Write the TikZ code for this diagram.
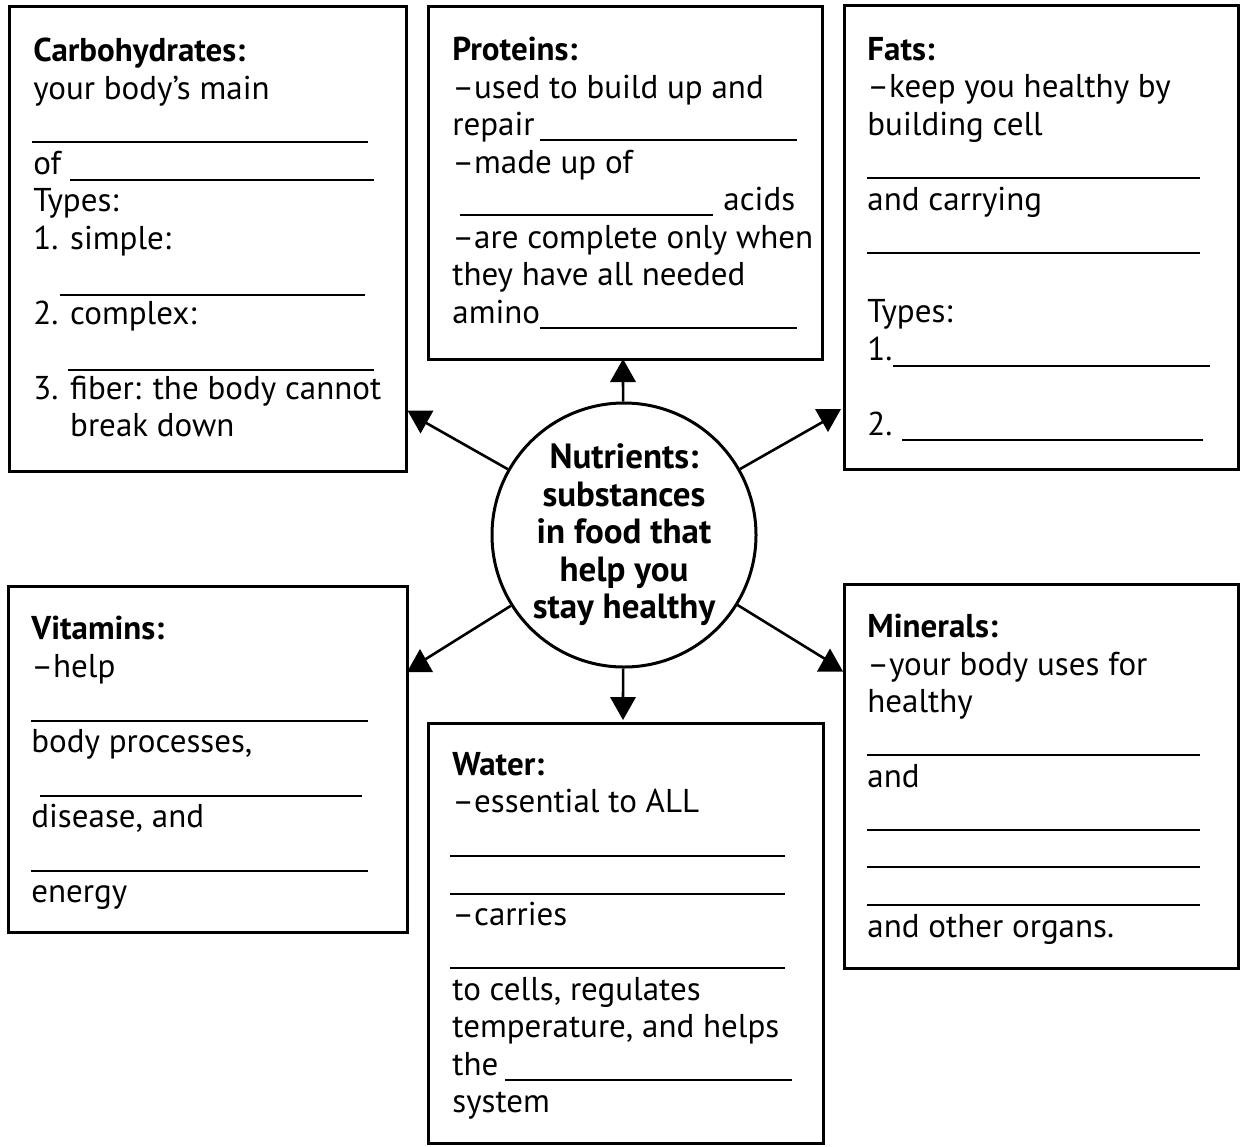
\documentclass[tikz,border=0pt]{standalone}
\usepackage{fontspec}
\setmainfont{PT Sans}
\usetikzlibrary{positioning}

\tikzset{
	infobox/.style={draw, line width=1.4pt, anchor=north west, inner sep=0pt},
	boxtext/.style={anchor=north west, yshift=13.125pt, align=left, inner sep=0pt,
		execute at begin node=\strut, font=\fontsize{16.5}{18.75}\selectfont},
	blank/.style={line width=0.8pt},
	hub/.style={circle, draw, line width=1.5pt, minimum size=132pt, inner sep=0pt, align=center, font=\bfseries\fontsize{17.5}{18.75}\selectfont},
	link/.style={line width=1.3pt},
	uptip/.pic={\fill (-13,11.5) -- (13,11.5) -- (0,-11.5) -- cycle;},
	downtip/.pic={\fill (-13,-11.5) -- (13,-11.5) -- (0,11.5) -- cycle;}
}

\begin{document}
\begin{tikzpicture}[x=0.5pt, y=-0.5pt]
\useasboundingbox (0,0) rectangle (1241,1146);

% boxes
\node[infobox, minimum width=198.5pt, minimum height=232.5pt] (carbs) at (8,5) {};
\node[infobox, minimum width=197pt, minimum height=176.5pt] (proteins) at (427,5) {};
\node[infobox, minimum width=197pt, minimum height=232pt] (fats) at (843,4) {};
\node[infobox, minimum width=199.5pt, minimum height=173pt] (vitamins) at (7,585) {};
\node[infobox, minimum width=197.5pt, minimum height=210pt] (water) at (427,722) {};
\node[infobox, minimum width=197pt, minimum height=192pt] (minerals) at (843,583) {};

% texts
\node[boxtext] (carbtext) at (33,64) {\textbf{Carbohydrates:}\\
your body’s main\\ ~\\
of\\
Types:\\
1. simple:\\ ~\\
2. complex:\\ ~\\
3. fiber: the body cannot\\
\hphantom{3. }break down};
\node[boxtext] (protext) at (452,63) {\textbf{Proteins:}\\
--used to build up and\\
repair\\
--made up of\\
\hspace*{135.5pt}acids\\
--are complete only when\\
they have all needed\\
amino};
\node[boxtext] (fattext) at (867,63) {\textbf{Fats:}\\
--keep you healthy by\\
building cell\\ ~\\
and carrying\\ ~\\ ~\\
Types:\\
1.\\ ~\\
2.};
\node[boxtext] (vittext) at (31,642) {\textbf{Vitamins:}\\
--help\\ ~\\
body processes,\\ ~\\
disease, and\\ ~\\
energy};
\node[boxtext] (wattext) at (452,778) {\textbf{Water:}\\
--essential to ALL\\ ~\\ ~\\
--carries\\ ~\\
to cells, regulates\\
temperature, and helps\\
the\\
system};
\node[boxtext] (mintext) at (867,640) {\textbf{Minerals:}\\
--your body uses for\\
healthy\\ ~\\
and\\ ~\\ ~\\ ~\\
and other organs.};

% blanks to fill in
\foreach \xa/\xb/\yy in {32/368/142, 70/374/180, 60/365/295, 68/374/370,
	540/797/140, 460/713/215, 540/797/328,
	867/1200/178, 867/1200/253, 893/1210/366, 902/1203/440,
	31/368/721, 40/362/796, 31/368/871,
	450/785/856, 450/785/894, 450/785/968, 505/792/1080,
	867/1200/755, 867/1200/830, 867/1200/867, 867/1200/905}
	\draw[blank] (\xa,\yy) -- (\xb,\yy);

% centre
\node[hub] (hub) at (624,535) {Nutrients:\\ substances\\ in food that\\ help you\\ stay healthy};

\coordinate (protip) at (623,380);
\coordinate (wattip) at (623,699);
\coordinate (carbtip) at (421,420);
\coordinate (fattip) at (828,419);
\coordinate (vittip) at (421,662);
\coordinate (mintip) at (830,662);

\foreach \t in {protip,wattip,carbtip,fattip,vittip,mintip}
	\draw[link] (hub) -- (\t);

\pic at (623,370.5) {uptip};
\pic at (623,708.5) {downtip};
\pic at (420.5,422) {downtip};
\pic at (828,420.5) {downtip};
\pic at (420,660.5) {uptip};
\pic at (830,660) {uptip};
\end{tikzpicture}
\end{document}
